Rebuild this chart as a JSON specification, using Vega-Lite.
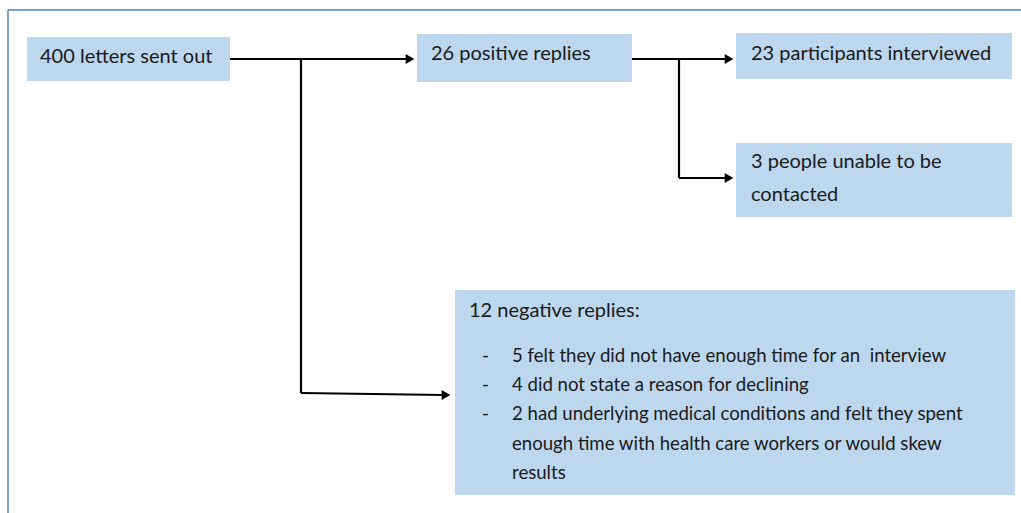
{
  "$schema": "https://vega.github.io/schema/vega-lite/v6.json",
  "width": 1021,
  "height": 513,
  "padding": 0,
  "autosize": "none",
  "background": "white",
  "config": {"view": {"stroke": null}},
  "datasets": {
    "frame": [
      {"x": 8, "y": 10, "x2": 1021, "y2": 10},
      {"x": 8, "y": 10, "x2": 8, "y2": 513}
    ],
    "boxes": [
      {"name": "letters", "x": 27, "x2": 230, "y": 37, "y2": 81},
      {"name": "positive", "x": 417, "x2": 632, "y": 34, "y2": 82},
      {"name": "interviewed", "x": 736, "x2": 1012, "y": 33, "y2": 79},
      {"name": "uncontacted", "x": 736, "x2": 1012, "y": 143, "y2": 217},
      {"name": "negative", "x": 455, "x2": 1015, "y": 290, "y2": 495}
    ],
    "lines": [
      {"x": 230, "y": 59, "x2": 408, "y2": 59},
      {"x": 301, "y": 59, "x2": 301, "y2": 393},
      {"x": 301, "y": 393, "x2": 444, "y2": 395},
      {"x": 632, "y": 59, "x2": 727, "y2": 59},
      {"x": 679, "y": 59, "x2": 679, "y2": 178},
      {"x": 679, "y": 178, "x2": 727, "y2": 178}
    ],
    "heads": [
      {"x": 410, "y": 59},
      {"x": 729, "y": 59},
      {"x": 729, "y": 178},
      {"x": 446, "y": 395}
    ],
    "titles": [
      {"x": 40, "y": 57, "t": "400 letters sent out"},
      {"x": 431, "y": 54, "t": "26 positive replies"},
      {"x": 751, "y": 54, "t": "23 participants interviewed"},
      {"x": 751, "y": 162, "t": "3 people unable to be"},
      {"x": 751, "y": 195, "t": "contacted"},
      {"x": 469, "y": 311, "t": "12 negative replies:"}
    ],
    "reasons": [
      {"x": 482, "y": 356, "t": "-"},
      {"x": 482, "y": 385, "t": "-"},
      {"x": 482, "y": 414, "t": "-"},
      {"x": 512, "y": 356, "t": "5 felt they did not have enough time for an\u00a0 interview"},
      {"x": 512, "y": 385, "t": "4 did not state a reason for declining"},
      {"x": 512, "y": 414, "t": "2 had underlying medical conditions and felt they spent"},
      {"x": 512, "y": 444, "t": "enough time with health care workers or would skew"},
      {"x": 512, "y": 473, "t": "results"}
    ]
  },
  "layer": [
    {
      "data": {"name": "frame"},
      "mark": {"type": "rule", "color": "#7c9fc9", "strokeWidth": 2},
      "encoding": {
        "x": {"field": "x", "type": "quantitative", "scale": {"domain": [0, 1021], "nice": false, "zero": false}, "axis": null},
        "y": {"field": "y", "type": "quantitative", "scale": {"domain": [513, 0], "nice": false, "zero": false}, "axis": null},
        "x2": {"field": "x2"},
        "y2": {"field": "y2"}
      }
    },
    {
      "data": {"name": "boxes"},
      "mark": {"type": "rect", "fill": "#bdd7ee"},
      "encoding": {
        "x": {"field": "x", "type": "quantitative"},
        "x2": {"field": "x2"},
        "y": {"field": "y", "type": "quantitative"},
        "y2": {"field": "y2"}
      }
    },
    {
      "data": {"name": "lines"},
      "mark": {"type": "rule", "color": "black", "strokeWidth": 2.2},
      "encoding": {
        "x": {"field": "x", "type": "quantitative"},
        "x2": {"field": "x2"},
        "y": {"field": "y", "type": "quantitative"},
        "y2": {"field": "y2"}
      }
    },
    {
      "data": {"name": "heads"},
      "mark": {"type": "point", "shape": "triangle-right", "filled": true, "color": "black", "size": 100, "opacity": 1},
      "encoding": {
        "x": {"field": "x", "type": "quantitative"},
        "y": {"field": "y", "type": "quantitative"}
      }
    },
    {
      "data": {"name": "titles"},
      "mark": {"type": "text", "align": "left", "baseline": "middle", "font": "Lato", "fontSize": 20, "color": "#1a1a1a"},
      "encoding": {
        "x": {"field": "x", "type": "quantitative"},
        "y": {"field": "y", "type": "quantitative"},
        "text": {"field": "t"}
      }
    },
    {
      "data": {"name": "reasons"},
      "mark": {"type": "text", "align": "left", "baseline": "middle", "font": "Lato", "fontSize": 18.6, "color": "#1a1a1a"},
      "encoding": {
        "x": {"field": "x", "type": "quantitative"},
        "y": {"field": "y", "type": "quantitative"},
        "text": {"field": "t"}
      }
    }
  ]
}
